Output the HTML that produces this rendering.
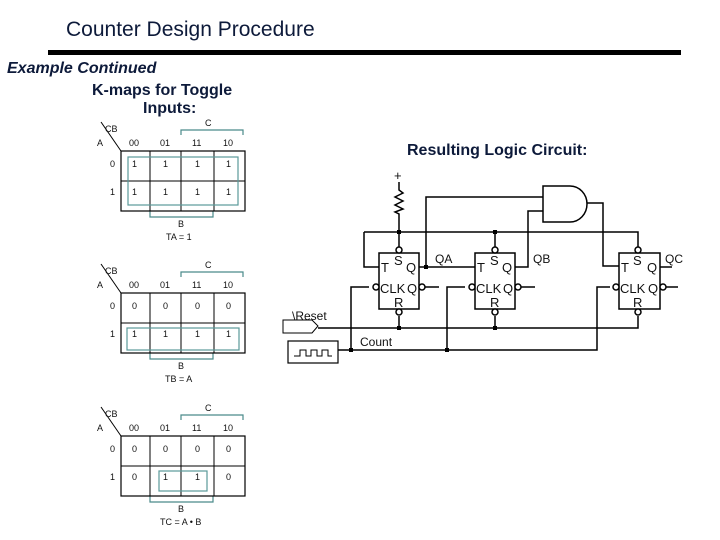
<!DOCTYPE html>
<html><head><meta charset="utf-8"><style>
body{margin:0;background:#fff}
svg{display:block}
text{font-family:"Liberation Sans",sans-serif}
.t{font-size:9px;fill:#111}
.c{font-size:13px;fill:#111}
.c2{font-size:12px;fill:#111}
.b{font-weight:bold;fill:#0d1a3a;font-size:16px}
</style></head><body>
<svg width="720" height="540" viewBox="0 0 720 540" xmlns="http://www.w3.org/2000/svg">
<text x="66" y="36" style="font-size:21px;fill:#0d1a3a">Counter Design Procedure</text>
<rect x="48" y="50" width="633" height="5" fill="#000"/>
<text x="7" y="73" class="b" font-style="italic">Example Continued</text>
<text x="92" y="95" class="b">K-maps for Toggle</text>
<text x="143" y="113" class="b">Inputs:</text>
<text x="407" y="155" class="b">Resulting Logic Circuit:</text>

<defs>
<g id="km">
<line x1="101" y1="122" x2="121" y2="151" stroke="#000" stroke-width="1"/>
<text x="105" y="132" class="t">CB</text>
<text x="97" y="146" class="t">A</text>
<text x="129" y="146" class="t">00</text>
<text x="160" y="146" class="t">01</text>
<text x="192" y="146" class="t">11</text>
<text x="223" y="146" class="t">10</text>
<text x="205" y="126" class="t">C</text>
<path d="M181 135V130H243V135" fill="none" stroke="#4a8a8a" stroke-width="1.2"/>
<path d="M150 211V217H213V211" fill="none" stroke="#4a8a8a" stroke-width="1.2"/>
<text x="178" y="227" class="t">B</text>
<rect x="121" y="151" width="124" height="60" fill="none" stroke="#000" stroke-width="1.2"/>
<line x1="121" y1="181" x2="245" y2="181" stroke="#000"/>
<line x1="150" y1="151" x2="150" y2="211" stroke="#000"/>
<line x1="181" y1="151" x2="181" y2="211" stroke="#000"/>
<line x1="214" y1="151" x2="214" y2="211" stroke="#000"/>
<text x="110" y="167" class="t">0</text>
<text x="110" y="195" class="t">1</text>
</g>
</defs>

<use href="#km"/>
<rect x="128" y="157" width="110" height="48" fill="none" stroke="#5a9a9a" stroke-width="1.2"/>
<g>
<text class="t" x="132" y="167">1</text><text class="t" x="163" y="167">1</text><text class="t" x="195" y="167">1</text><text class="t" x="226" y="167">1</text>
<text class="t" x="132" y="195">1</text><text class="t" x="163" y="195">1</text><text class="t" x="195" y="195">1</text><text class="t" x="226" y="195">1</text>
<text class="t" x="166" y="240">TA = 1</text>
</g>
<g transform="translate(0,142)"><use href="#km"/>
<rect x="127" y="186" width="112" height="22" fill="none" stroke="#5a9a9a" stroke-width="1.2"/>
<text class="t" x="132" y="167">0</text><text class="t" x="163" y="167">0</text><text class="t" x="195" y="167">0</text><text class="t" x="226" y="167">0</text>
<text class="t" x="132" y="195">1</text><text class="t" x="163" y="195">1</text><text class="t" x="195" y="195">1</text><text class="t" x="226" y="195">1</text>
<text class="t" x="165" y="240">TB = A</text>
</g>
<g transform="translate(0,285)"><use href="#km"/>
<rect x="159" y="186" width="48" height="20" fill="none" stroke="#5a9a9a" stroke-width="1.2"/>
<text class="t" x="132" y="167">0</text><text class="t" x="163" y="167">0</text><text class="t" x="195" y="167">0</text><text class="t" x="226" y="167">0</text>
<text class="t" x="132" y="195">0</text><text class="t" x="163" y="195">1</text><text class="t" x="195" y="195">1</text><text class="t" x="226" y="195">0</text>
<text class="t" x="160" y="240">TC = A • B</text>
</g>

<g fill="none" stroke="#000" stroke-width="1.5">
<rect x="379" y="253" width="40" height="56"/>
<rect x="475" y="253" width="40" height="56"/>
<rect x="619" y="253" width="41" height="56"/>
<path d="M399 182V190L403 193L395 197L403 201L395 205L403 209L395 212L399 214V232"/>
<path d="M364 232H638V247M364 232V267H379M399 232V247M495 232V247"/>
<path d="M318 328H638V316M399 316V328M495 316V328"/>
<path d="M283 320H312L318 326L312 333H283Z" stroke-width="1"/>
<rect x="288" y="341" width="50" height="22" stroke-width="1.2"/>
<path d="M294 356H300V350H306V356H311V350H317V356H322V350H328V356H332" stroke-width="1"/>
<path d="M338 350H597V287H610M351 350V287H369M447 350V287H465"/>
<path d="M419 267H475M426 267V197H543"/>
<path d="M515 267H528V211H543"/>
<path d="M543 186H570A17 18 0 0 1 570 222H543Z"/>
<path d="M587 203H603V266H619"/>
<path d="M660 267H672"/>
<path d="M425 287H439M521 287H535M666 287H678"/>
<circle cx="399" cy="250" r="3" fill="#fff"/><circle cx="495" cy="250" r="3" fill="#fff"/><circle cx="638" cy="250" r="3" fill="#fff"/>
<circle cx="399" cy="312" r="3" fill="#fff"/><circle cx="495" cy="312" r="3" fill="#fff"/><circle cx="638" cy="312" r="3" fill="#fff"/>
<circle cx="376" cy="287" r="3" fill="#fff"/><circle cx="472" cy="287" r="3" fill="#fff"/><circle cx="616" cy="287" r="3" fill="#fff"/>
<circle cx="422" cy="287" r="3" fill="#fff"/><circle cx="518" cy="287" r="3" fill="#fff"/><circle cx="663" cy="287" r="3" fill="#fff"/>
</g>
<g fill="#000">
<rect x="397" y="230" width="4" height="4"/><rect x="493" y="230" width="4" height="4"/>
<rect x="397" y="326" width="4" height="4"/><rect x="493" y="326" width="4" height="4"/>
<rect x="349" y="348" width="4" height="4"/><rect x="445" y="348" width="4" height="4"/>
<rect x="424" y="265" width="4" height="4"/>
</g>
<text x="394" y="180" class="c">+</text>
<text class="c" x="381" y="272">T</text><text class="c" x="394" y="265">S</text><text class="c" x="406" y="272">Q</text>
<text class="c" x="380" y="293">CLK</text><text class="c" x="407" y="293">Q</text><text class="c" x="394" y="307">R</text>
<text class="c" x="477" y="272">T</text><text class="c" x="490" y="265">S</text><text class="c" x="502" y="272">Q</text>
<text class="c" x="476" y="293">CLK</text><text class="c" x="503" y="293">Q</text><text class="c" x="490" y="307">R</text>
<text class="c" x="621" y="272">T</text><text class="c" x="633" y="265">S</text><text class="c" x="647" y="272">Q</text>
<text class="c" x="620" y="293">CLK</text><text class="c" x="648" y="293">Q</text><text class="c" x="633" y="307">R</text>
<text class="c2" x="435" y="263">QA</text><text class="c2" x="533" y="263">QB</text><text class="c2" x="665" y="263">QC</text>
<text class="c2" x="292" y="320">\Reset</text><text class="c2" x="360" y="346">Count</text>
</svg>
</body></html>
